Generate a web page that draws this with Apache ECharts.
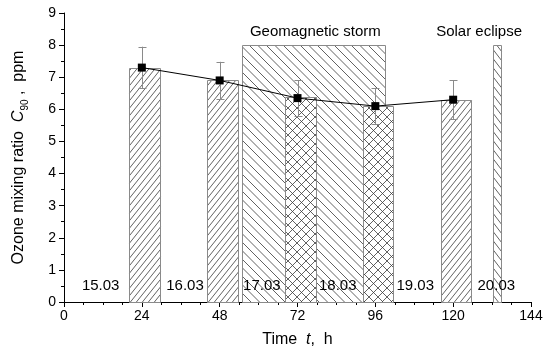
<!DOCTYPE html>
<html>
<head>
<meta charset="utf-8">
<script src="https://cdn.jsdelivr.net/npm/echarts@6/dist/echarts.min.js"></script>
<style>
html,body{margin:0;padding:0;background:#fff;}
#chart{width:550px;height:354px;}
</style>
</head>
<body>
<div id="chart"></div>
<script>
// ---- data ----
const hours = [24, 48, 72, 96, 120];
const ozone = [7.3, 6.9, 6.35, 6.1, 6.3];
const ozoneErr = [0.65, 0.58, 0.55, 0.57, 0.6];
const barStart = [20, 44.1, 68.1, 92.3, 116.4];
const barEnd = [29.7, 53.5, 77.8, 101.6, 125.6];
const barHeight = [7.3, 6.9, 6.37, 6.1, 6.3];
const eventNames = ['Geomagnetic storm', 'Solar eclipse'];
const eventStart = [55, 132.4];
const eventEnd = [99.1, 134.6];
const eventLevel = [8, 8];
const eventLabelX = [77.5, 128];
const eventLabelY = [8.4, 8.4];
const dates = ['15.03', '16.03', '17.03', '18.03', '19.03', '20.03'];
const dateX = [11.3, 37.3, 61, 84.4, 108.3, 133.3];
const dateY = [0.5, 0.5, 0.5, 0.5, 0.5, 0.5];
const xTicks = [0, 24, 48, 72, 96, 120, 144];
const yTicks = [0, 1, 2, 3, 4, 5, 6, 7, 8, 9];

// ---- styles (not data) ----
const barHatchStyle = [
  {slash: true, back: false, s: 6, k: 1.25},
  {slash: true, back: false, s: 6, k: 1.25},
  {slash: true, back: true, s: 9, k: 1},
  {slash: true, back: true, s: 9, k: 1},
  {slash: true, back: false, s: 6, k: 1.25}
];
const eventHatchStyle = [
  {slash: false, back: true, s: 8.5, k: 1},
  {slash: false, back: true, s: 7, k: 1.3}
];
const FONT = '"Liberation Sans", Arial, sans-serif';
const HATCH_COLOR = '#3a3a3a';
const EDGE_COLOR = '#8a8a8a';

function hatchLines(x0, y0, x1, y1, st) {
  const out = [];
  const k = st.k, step = st.s * k;
  if (st.slash) { // y = c - k x
    const cmin = y0 + k * x0, cmax = y1 + k * x1;
    for (let c = Math.ceil(cmin / step) * step; c <= cmax; c += step) {
      const xa = Math.max(x0, (c - y1) / k), xb = Math.min(x1, (c - y0) / k);
      if (xb > xa) out.push({type: 'line', shape: {x1: xa, y1: c - k * xa, x2: xb, y2: c - k * xb},
        style: {stroke: HATCH_COLOR, lineWidth: 0.8}});
    }
  }
  if (st.back) { // y = k x - c
    const cmin = k * x0 - y1, cmax = k * x1 - y0;
    for (let c = Math.ceil(cmin / step) * step; c <= cmax; c += step) {
      const xa = Math.max(x0, (y0 + c) / k), xb = Math.min(x1, (y1 + c) / k);
      if (xb > xa) out.push({type: 'line', shape: {x1: xa, y1: k * xa - c, x2: xb, y2: k * xb - c},
        style: {stroke: HATCH_COLOR, lineWidth: 0.8}});
    }
  }
  return out;
}

function makeBarRenderer(styles) {
  return function (params, api) {
    const s = api.value(0), e = api.value(1), h = api.value(2);
    const p0 = api.coord([s, h]), p1 = api.coord([e, 0]);
    const x0 = Math.round(p0[0]) + 0.5, y0 = Math.round(p0[1]) + 0.5;
    const x1 = Math.round(p1[0]) + 0.5, y1 = Math.round(p1[1]) + 0.5;
    const children = [{type: 'rect', shape: {x: x0, y: y0, width: x1 - x0, height: y1 - y0},
      style: {fill: '#fff', stroke: null}}];
    hatchLines(x0, y0, x1, y1, styles[params.dataIndex]).forEach(l => children.push(l));
    children.push({type: 'rect', shape: {x: x0, y: y0, width: x1 - x0, height: y1 - y0},
      style: {fill: null, stroke: EDGE_COLOR, lineWidth: 1}});
    return {type: 'group', children: children};
  };
}

const chart = echarts.init(document.getElementById('chart'), null, {renderer: 'canvas'});
const option = {
  animation: false,
  backgroundColor: '#fff',
  grid: {left: 60, right: 19, top: 13, bottom: 52},
  xAxis: {
    type: 'value', min: xTicks[0], max: xTicks[xTicks.length - 1], interval: 24,
    name: 'Time  {i|t},  h', nameLocation: 'middle', nameGap: 30,
    nameTextStyle: {fontFamily: FONT, fontSize: 16, color: '#000',
      rich: {i: {fontFamily: FONT, fontSize: 16, fontStyle: 'italic', color: '#000'}}},
    axisLine: {lineStyle: {color: '#000', width: 1}},
    axisTick: {show: true, inside: false, length: 5, lineStyle: {color: '#000'}},
    minorTick: {show: true, splitNumber: 4, length: 3, lineStyle: {color: '#000'}},
    axisLabel: {fontFamily: FONT, fontSize: 14, color: '#000', margin: 7},
    splitLine: {show: false}
  },
  yAxis: {
    type: 'value', min: yTicks[0], max: yTicks[yTicks.length - 1], interval: 1,
    name: 'Ozone mixing ratio  {i|C}{sub|90}{n| ,  ppm}', nameLocation: 'middle', nameGap: 34,
    nameTextStyle: {fontFamily: FONT, fontSize: 16, color: '#000', lineHeight: 22,
      rich: {
        i: {fontFamily: FONT, fontSize: 16, fontStyle: 'italic', color: '#000', lineHeight: 22},
        sub: {fontFamily: FONT, fontSize: 10, color: '#000', verticalAlign: 'bottom', lineHeight: 10},
        n: {fontFamily: FONT, fontSize: 16, color: '#000', lineHeight: 22}
      }},
    axisLine: {show: true, lineStyle: {color: '#000', width: 1}},
    axisTick: {show: true, inside: false, length: 5, lineStyle: {color: '#000'}},
    minorTick: {show: true, splitNumber: 2, length: 3, lineStyle: {color: '#000'}},
    axisLabel: {fontFamily: FONT, fontSize: 14, color: '#000', margin: 8},
    splitLine: {show: false}
  },
  series: [
    {
      type: 'custom', z: 1,
      renderItem: makeBarRenderer(eventHatchStyle),
      data: eventStart.map((s, i) => [s, eventEnd[i], eventLevel[i]])
    },
    {
      type: 'custom', z: 2,
      renderItem: makeBarRenderer(barHatchStyle),
      data: barStart.map((s, i) => [s, barEnd[i], barHeight[i]])
    },
    {
      type: 'custom', z: 3,
      renderItem: function (params, api) {
        const x = api.value(0), y = api.value(1), err = api.value(2);
        const top = api.coord([x, y + err]), bot = api.coord([x, y - err]);
        const cx = Math.round(top[0]) + 0.5;
        const st = {stroke: '#8a8a8a', lineWidth: 1};
        return {type: 'group', children: [
          {type: 'line', shape: {x1: cx, y1: top[1], x2: cx, y2: bot[1]}, style: st},
          {type: 'line', shape: {x1: cx - 4, y1: Math.round(top[1]) + 0.5, x2: cx + 4, y2: Math.round(top[1]) + 0.5}, style: st},
          {type: 'line', shape: {x1: cx - 4, y1: Math.round(bot[1]) + 0.5, x2: cx + 4, y2: Math.round(bot[1]) + 0.5}, style: st}
        ]};
      },
      data: hours.map((h, i) => [h, ozone[i], ozoneErr[i]])
    },
    {
      type: 'line', z: 4,
      data: hours.map((h, i) => [h, ozone[i]]),
      symbol: 'rect', symbolSize: 8,
      itemStyle: {color: '#000'},
      lineStyle: {color: '#000', width: 1}
    },
    {
      type: 'custom', z: 5,
      renderItem: function (params, api) {
        const p = api.coord([api.value(0), api.value(1)]);
        return {type: 'text', style: {x: p[0], y: p[1], text: dates[params.dataIndex],
          fontFamily: FONT, fontSize: 15, fill: '#000', align: 'center', verticalAlign: 'middle'}};
      },
      data: dateX.map((x, i) => [x, dateY[i]])
    },
    {
      type: 'custom', z: 5,
      renderItem: function (params, api) {
        const p = api.coord([api.value(0), api.value(1)]);
        return {type: 'text', style: {x: p[0], y: p[1], text: eventNames[params.dataIndex],
          fontFamily: FONT, fontSize: 15, fill: '#000', align: 'center', verticalAlign: 'middle'}};
      },
      data: eventLabelX.map((x, i) => [x, eventLabelY[i]])
    }
  ]
};
chart.setOption(option);
</script>
</body>
</html>
